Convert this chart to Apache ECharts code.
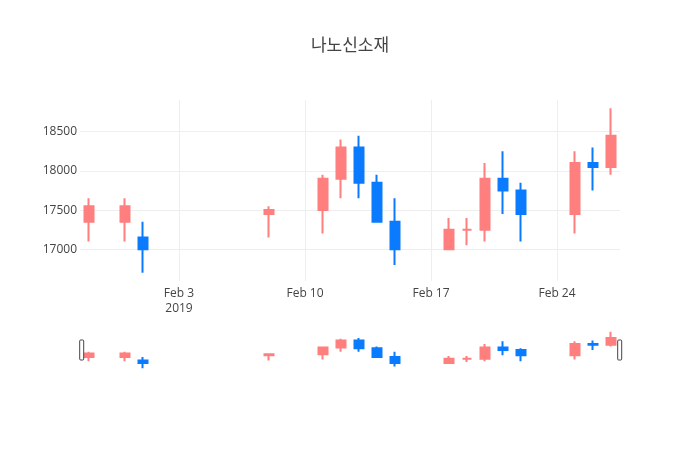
<!DOCTYPE html>
<html>
<head>
<meta charset="utf-8">
<script src="https://cdn.jsdelivr.net/npm/echarts@6/dist/echarts.min.js"></script>
<style>
  html, body { margin: 0; padding: 0; background: #fff; }
  #chart { width: 700px; height: 450px; }
</style>
</head>
<body>
<div id="chart"></div>
<script>
// 나노신소재 일봉 (2019년 1~2월)
var dates = ['2019-01-29', '2019-01-31', '2019-02-01', '2019-02-08', '2019-02-11', '2019-02-12',
  '2019-02-13', '2019-02-14', '2019-02-15', '2019-02-18', '2019-02-19', '2019-02-20',
  '2019-02-21', '2019-02-22', '2019-02-25', '2019-02-26', '2019-02-27'];
var openPrice  = [17350, 17350, 17150, 17450, 17500, 17900, 18300, 17850, 17350, 17000, 17250, 17250, 17900, 17750, 17450, 18100, 18050];
var closePrice = [17550, 17550, 17000, 17500, 17900, 18300, 17850, 17350, 17000, 17250, 17250, 17900, 17750, 17450, 18100, 18050, 18450];
var lowPrice   = [17100, 17100, 16700, 17150, 17200, 17650, 17650, 17350, 16800, 17000, 17050, 17100, 17450, 17100, 17200, 17750, 17950];
var highPrice  = [17650, 17650, 17350, 17550, 17950, 18400, 18450, 17950, 17650, 17400, 17400, 18100, 18250, 17850, 18250, 18300, 18800];

var xTickDates  = ['2019-02-03', '2019-02-10', '2019-02-17', '2019-02-24'];
var xTickLabels = ['Feb 3\n2019', 'Feb 10', 'Feb 17', 'Feb 24'];
var yTicks = [17000, 17500, 18000, 18500];

var UP = '#ff7f7f', DOWN = '#0a7bff';
var DAY = 24 * 3600 * 1000;

function toTime(s) {
  var p = s.split('-');
  return new Date(+p[0], +p[1] - 1, +p[2]).getTime();
}

var times = dates.map(toTime);
var xTickTimes = xTickDates.map(toTime);

// echarts candlestick: [x, open, close, low, high]
var ohlc = times.map(function (t, i) {
  return [t, openPrice[i], closePrice[i], lowPrice[i], highPrice[i]];
});

var xMin = times[0] - DAY / 2;
var xMax = times[times.length - 1] + DAY / 2;
var lo = Math.min.apply(null, lowPrice), hi = Math.max.apply(null, highPrice);
var pad = (hi - lo) * 0.05;
var yMin = lo - pad, yMax = hi + pad;

var font = "'Open Sans', 'Noto Sans CJK KR', sans-serif";

var chart = echarts.init(document.getElementById('chart'));

var candleStyle = {
  color: UP,
  color0: DOWN,
  borderColor: UP,
  borderColor0: DOWN,
  borderColorDoji: UP,
  borderWidth: 2
};

var option = {
  animation: false,
  backgroundColor: '#fff',
  title: {
    text: '나노신소재',
    left: 'center',
    top: 33,
    textStyle: { fontFamily: font, fontSize: 17, fontWeight: 'normal', color: '#444' }
  },
  grid: [
    { left: 80, right: 80, top: 100, height: 181 },
    { left: 80, right: 80, top: 330, height: 40 }
  ],
  xAxis: [{
    type: 'value',
    gridIndex: 0,
    min: xMin,
    max: xMax,
    axisLine: { show: false },
    axisTick: { show: false, customValues: xTickTimes },
    axisLabel: {
      customValues: xTickTimes,
      color: '#444',
      fontFamily: font,
      fontSize: 12,
      lineHeight: 15,
      margin: 5,
      formatter: function (v) {
        var i = xTickTimes.indexOf(v);
        return i >= 0 ? xTickLabels[i] : '';
      }
    },
    splitLine: { show: true, lineStyle: { color: '#eee', width: 1 } }
  }, {
    type: 'value',
    gridIndex: 1,
    min: xMin,
    max: xMax,
    show: false
  }],
  yAxis: [{
    type: 'value',
    gridIndex: 0,
    min: yMin,
    max: yMax,
    axisLine: { show: false },
    axisTick: { show: false, customValues: yTicks },
    axisLabel: {
      customValues: yTicks,
      color: '#444',
      fontFamily: font,
      fontSize: 12,
      margin: 3,
      formatter: function (v) { return String(v); }
    },
    splitLine: { show: true, lineStyle: { color: '#eee', width: 1 } }
  }, {
    type: 'value',
    gridIndex: 1,
    min: yMin,
    max: yMax,
    show: false
  }],
  dataZoom: [{
    type: 'slider',
    xAxisIndex: 1,
    filterMode: 'none',
    start: 0,
    end: 100,
    left: 80,
    right: 80,
    top: 330,
    height: 40,
    showDetail: false,
    showDataShadow: false,
    brushSelect: false,
    moveHandleSize: 0,
    backgroundColor: 'rgba(0,0,0,0)',
    borderColor: 'rgba(0,0,0,0)',
    fillerColor: 'rgba(0,0,0,0)',
    handleIcon: 'path://M1,0h2a1,1 0 0 1 1,1v18a1,1 0 0 1 -1,1h-2a1,1 0 0 1 -1,-1v-18a1,1 0 0 1 1,-1z',
    handleSize: 20,
    handleStyle: { color: '#fff', borderColor: '#444', borderWidth: 1 },
    emphasis: { handleStyle: { color: '#fff', borderColor: '#444', borderWidth: 1 } }
  }],
  series: [{
    name: '나노신소재',
    type: 'candlestick',
    xAxisIndex: 0,
    yAxisIndex: 0,
    barWidth: 9,
    itemStyle: candleStyle,
    data: ohlc
  }, {
    name: 'range',
    type: 'candlestick',
    xAxisIndex: 1,
    yAxisIndex: 1,
    barWidth: 9,
    itemStyle: candleStyle,
    silent: true,
    data: ohlc
  }]
};

chart.setOption(option);
</script>
</body>
</html>
